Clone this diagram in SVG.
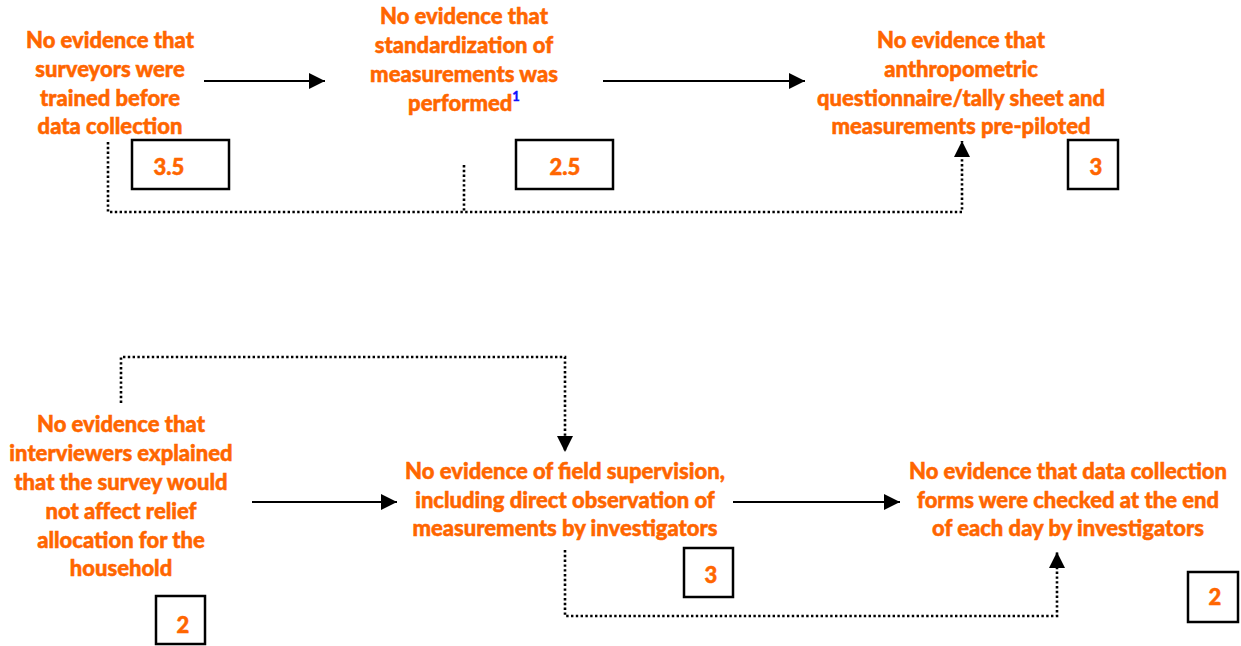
<svg xmlns="http://www.w3.org/2000/svg" width="1241" height="646" viewBox="0 0 1241 646">
  <style>
    .lbl { font-family: Lato, "Open Sans", "Liberation Sans", sans-serif; font-weight: 900; font-size: 22px; fill: #FF6600; stroke: #FF6600; stroke-width: 0.5; text-anchor: middle; }
    .score { fill: none; stroke: #000; stroke-width: 2.5; }
    .sup { font-weight: 900; font-size: 13px; fill: #1010FF; stroke: #1010FF; stroke-width: 0.3; }
    .solid { fill: none; stroke: #000; stroke-width: 2; }
    .dotted { fill: none; stroke: #000; stroke-width: 2.6; stroke-dasharray: 2.4 2.4; }
  </style>
  <defs>
    <marker id="headLg" viewBox="0 0 10 10" refX="10" refY="5" markerWidth="16" markerHeight="16" markerUnits="userSpaceOnUse" orient="auto">
      <path d="M0,0 L10,5 L0,10 z" fill="#000"/>
    </marker>
  </defs>
  <rect width="1241" height="646" fill="#fff"/>

  <!-- connectors -->
  <g id="connectors">
    <line class="solid" x1="204" y1="81" x2="325" y2="81" marker-end="url(#headLg)"/>
    <line class="solid" x1="603" y1="81" x2="805" y2="81" marker-end="url(#headLg)"/>
    <path class="dotted" d="M108,142 V212 H962 V141" marker-end="url(#headLg)"/>
    <path class="dotted" d="M464,165 V212"/>
    <line class="solid" x1="252" y1="502" x2="397" y2="502" marker-end="url(#headLg)"/>
    <line class="solid" x1="733" y1="502" x2="900" y2="502" marker-end="url(#headLg)"/>
    <path class="dotted" d="M121,403 V357 H565 V452" marker-end="url(#headLg)"/>
    <path class="dotted" d="M565,550 V616 H1057 V552" marker-end="url(#headLg)"/>
  </g>

  <!-- training -->
  <g id="n-training">
    <text class="lbl"><tspan x="110" y="48">No evidence that</tspan><tspan x="110" y="77">surveyors were</tspan><tspan x="110" y="106">trained before</tspan><tspan x="110" y="134">data collection</tspan></text>
    <rect class="score" x="132" y="140" width="97" height="49"/>
    <text class="lbl" x="169" y="175">3.5</text>
  </g>

  <!-- standardization -->
  <g id="n-standardization">
    <text class="lbl"><tspan x="464" y="24">No evidence that</tspan><tspan x="464" y="53">standardization of</tspan><tspan x="464" y="82">measurements was</tspan><tspan x="464" y="111">performed<tspan class="sup" dy="-10">1</tspan></tspan></text>
    <rect class="score" x="516" y="140" width="97" height="49"/>
    <text class="lbl" x="565" y="175">2.5</text>
  </g>

  <!-- pre-piloting -->
  <g id="n-prepilot">
    <text class="lbl"><tspan x="961" y="48">No evidence that</tspan><tspan x="961" y="77">anthropometric</tspan><tspan x="961" y="106">questionnaire/tally sheet and</tspan><tspan x="961" y="134">measurements pre-piloted</tspan></text>
    <rect class="score" x="1068" y="140" width="50" height="49"/>
    <text class="lbl" x="1096" y="175">3</text>
  </g>

  <!-- explanation to households -->
  <g id="n-explain">
    <text class="lbl"><tspan x="121" y="432">No evidence that</tspan><tspan x="121" y="461">interviewers explained</tspan><tspan x="121" y="490">that the survey would</tspan><tspan x="121" y="519">not affect relief</tspan><tspan x="121" y="548">allocation for the</tspan><tspan x="121" y="576">household</tspan></text>
    <rect class="score" x="156" y="596" width="49" height="48"/>
    <text class="lbl" x="183" y="633">2</text>
  </g>

  <!-- field supervision -->
  <g id="n-supervision">
    <text class="lbl"><tspan x="565" y="479">No evidence of field supervision,</tspan><tspan x="565" y="508">including direct observation of</tspan><tspan x="565" y="536">measurements by investigators</tspan></text>
    <rect class="score" x="684" y="548" width="49" height="49"/>
    <text class="lbl" x="711" y="583">3</text>
  </g>

  <!-- daily form checks -->
  <g id="n-formcheck">
    <text class="lbl"><tspan x="1068" y="479">No evidence that data collection</tspan><tspan x="1068" y="508">forms were checked at the end</tspan><tspan x="1068" y="536">of each day by investigators</tspan></text>
    <rect class="score" x="1188" y="572" width="50" height="50"/>
    <text class="lbl" x="1215" y="605">2</text>
  </g>
</svg>
